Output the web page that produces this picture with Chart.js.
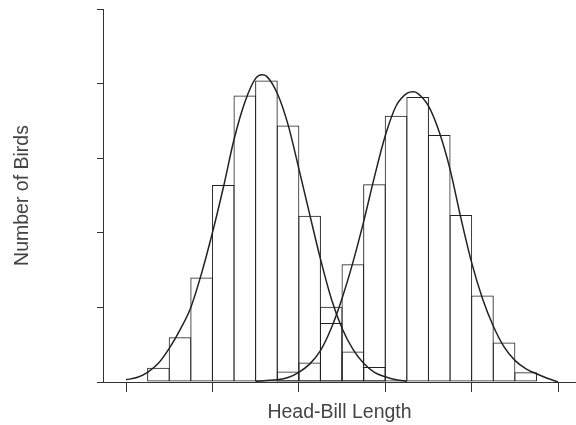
<!DOCTYPE html>
<html><head><meta charset="utf-8">
<script src="https://cdn.jsdelivr.net/npm/chart.js@4/dist/chart.umd.min.js"></script>
<style>html,body{margin:0;padding:0;background:#fff}#wrap{width:576px;height:425px}</style>
</head><body><div id="wrap"><canvas id="c" width="576" height="425"></canvas></div>
<script>
// Histogram bins (x in bin units; each axis tick spans 4 bins)
const binCenters = [0.5,1.5,2.5,3.5,4.5,5.5,6.5,7.5,8.5,9.5,10.5,11.5,12.5,13.5,14.5,15.5,16.5,17.5,18.5,19.5];
const leftCounts  = [0,0.19,0.60,1.40,2.64,3.84,4.04,3.44,2.23,1.01,0.41,0.20,0,0,0,0,0,0,0,0];
const rightCounts = [0,0,0,0,0,0,0,0.14,0.26,0.79,1.58,2.65,3.57,3.82,3.31,2.24,1.16,0.53,0.13,0];
// Fitted curves
const leftCurveX = [0,0.5,1,1.5,2,2.5,3,3.5,4,4.5,5,5.5,6,6.3,6.5,7,7.5,8,8.5,9,9.5,10,10.5,11,11.5,12,12.5,13];
const leftCurveY = [0.03,0.06,0.13,0.25,0.45,0.70,1.0,1.46,2.0,2.6,3.25,3.75,4.07,4.12,4.10,3.87,3.45,2.86,2.25,1.65,1.12,0.72,0.44,0.25,0.13,0.07,0.03,0.01];
const rightCurveX = [6,6.5,7,7.5,8,8.5,9,9.5,10,10.5,11,11.5,12,12.5,13,13.3,13.5,14,14.5,15,15.5,16,16.5,17,17.5,18,18.5,19,19.5,20];
const rightCurveY = [0.01,0.02,0.03,0.06,0.13,0.24,0.42,0.72,1.12,1.6,2.15,2.75,3.3,3.7,3.87,3.89,3.87,3.7,3.35,2.85,2.2,1.6,1.12,0.75,0.47,0.29,0.18,0.11,0.05,0.0];
const xTicks = [0,4,8,12,16,20];
const yTicks = [0,1,2,3,4,5];
const xLabel = 'Head-Bill Length';
const yLabel = 'Number of Birds';

const toBars = arr => binCenters.map((c,i)=>({x:c,y:arr[i]})).filter(d=>d.y>0);
const toPts = (xs,ys) => xs.map((x,i)=>({x:x,y:ys[i]}));
const axisColor = '#333';
const font = {family:'Liberation Sans', size:19.5};
const barStyle = {backgroundColor:'rgba(0,0,0,0)', borderColor:'#222', borderWidth:1, borderSkipped:false, grouped:false, barPercentage:1.046, categoryPercentage:1, order:2};

new Chart(document.getElementById('c'), {
  type:'bar',
  data:{datasets:[
    Object.assign({type:'bar', data:toBars(leftCounts)}, barStyle),
    Object.assign({type:'bar', data:toBars(rightCounts)}, barStyle),
    {type:'line', data:toPts(leftCurveX,leftCurveY), borderColor:'#222', borderWidth:1.5, pointRadius:0, cubicInterpolationMode:'monotone', fill:false, order:1},
    {type:'line', data:toPts(rightCurveX,rightCurveY), borderColor:'#222', borderWidth:1.5, pointRadius:0, cubicInterpolationMode:'monotone', fill:false, order:1}
  ]},
  options:{
    responsive:false, animation:false, devicePixelRatio:1,
    layout:{padding:{top:9,right:0,left:0,bottom:0}},
    plugins:{legend:{display:false}, tooltip:{enabled:false}},
    scales:{
      x:{type:'linear', min:-1.065, max:20.83, offset:false,
         afterBuildTicks:s=>{s.ticks = xTicks.map(v=>({value:v}));},
         afterFit:s=>{s.height = 43;},
         ticks:{display:false},
         grid:{offset:false, drawOnChartArea:false, drawTicks:true, tickLength:10, color:axisColor, lineWidth:1},
         border:{display:true, color:axisColor, width:1},
         title:{display:true, text:xLabel, color:'#444', font:font, padding:{top:0,bottom:0.5}}},
      y:{type:'linear', min:0, max:5, offset:false,
         afterBuildTicks:s=>{s.ticks = yTicks.map(v=>({value:v}));},
         afterFit:s=>{s.width = 103;},
         ticks:{display:false},
         grid:{offset:false, drawOnChartArea:false, drawTicks:true, tickLength:6, color:axisColor, lineWidth:1},
         border:{display:true, color:axisColor, width:1},
         title:{display:true, text:yLabel, color:'#444', font:font, padding:{top:11,bottom:0}}}
    }
  }
});
</script></body></html>
